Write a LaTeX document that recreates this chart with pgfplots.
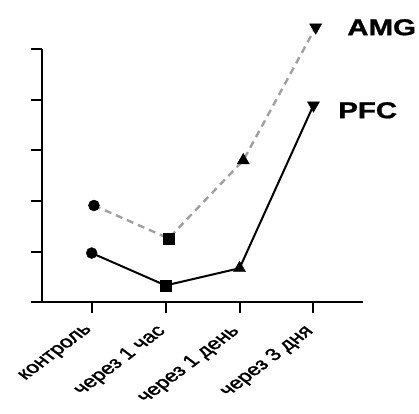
\documentclass[border=0pt]{standalone}
\usepackage{fontspec}
\setmainfont{Liberation Sans}
\newfontfamily\labfont[FakeBold=1.6]{Liberation Sans}
\newfontfamily\bigfont[FakeBold=1]{Liberation Sans Bold}
\usepackage{graphicx}
\usepackage{pgfplots}
\pgfplotsset{compat=1.18}
\definecolor{dashgray}{RGB}{160,160,160}
\newcommand{\lab}[1]{\scalebox{1.32}[1]{\rotatebox{45}{\labfont\fontsize{17bp}{19bp}\selectfont #1}}}
\begin{document}
\begin{tikzpicture}
\begin{axis}[
  scale only axis,
  width=321bp, height=253bp,
  xmin=-0.672, xmax=3.672,
  ymin=0, ymax=5,
  axis x line=bottom, axis y line=left,
  axis line style={line width=2bp, -},
  every tick/.style={line width=2bp, black},
  tick align=outside,
  major tick length=11bp,
  xtick={0,1,2,3},
  xticklabels={\lab{контроль},\lab{через 1 час},\lab{через 1 день},\lab{через 3 дня}},
  xticklabel style={anchor=north east, inner sep=0pt, xshift=4bp, yshift=-10bp},
  ytick={0,1,2,3,4,5},
  yticklabels={},
  clip=false,
]
\path (axis description cs:-0.131,-0.439) rectangle (axis description cs:1.174,1.194);
% AMG markers (line drawn over them)
\addplot[only marks, mark=*, mark size=5.5bp, black] coordinates {(0.03,1.91)};
\addplot[only marks, mark=square*, mark size=5.5bp, black] coordinates {(1.04,1.26)};
\addplot[only marks, mark=triangle*, mark size=7bp, black] coordinates {(2.05,2.80)};
\addplot[only marks, mark=triangle*, mark options={rotate=180}, mark size=7bp, black] coordinates {(3.03,5.43)};
\addplot[no marks, dashgray, line width=2.4bp, dash pattern=on 7bp off 5bp] coordinates {(0.03,1.91) (1.04,1.26) (2.05,2.80) (3.03,5.43)};
% PFC
\addplot[no marks, black, line width=2bp] coordinates {(0,0.97) (1,0.33) (2,0.67) (3,3.89)};
\addplot[only marks, mark=*, mark size=5.5bp, black] coordinates {(0,0.97)};
\addplot[only marks, mark=square*, mark size=5.5bp, black] coordinates {(1,0.33)};
\addplot[only marks, mark=triangle*, mark size=7bp, black] coordinates {(2,0.67)};
\addplot[only marks, mark=triangle*, mark options={rotate=180}, mark size=7bp, black] coordinates {(3,3.89)};
\node[anchor=west, inner sep=0pt] at (axis cs:3.455,5.43) {\scalebox{1.28}[1]{\bigfont\fontsize{23bp}{25bp}\selectfont AMG}};
\node[anchor=west, inner sep=0pt] at (axis cs:3.333,3.79) {\scalebox{1.28}[1]{\bigfont\fontsize{23bp}{25bp}\selectfont PFC}};
\end{axis}
\end{tikzpicture}
\end{document}
